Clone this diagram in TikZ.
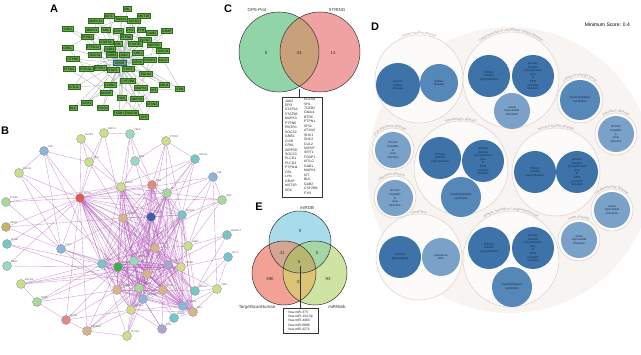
\documentclass[tikz,border=0pt]{standalone}
\usepackage{fontspec}
\setmainfont{Liberation Sans}
\usetikzlibrary{decorations.text}
\pgfdeclarelayer{bg}
\pgfsetlayers{bg,main}
\definecolor{agreen}{HTML}{66AC4A}
\definecolor{aborder}{HTML}{2E6A20}
\definecolor{agray}{HTML}{ADADB6}
\definecolor{eporblue}{HTML}{1F5A9A}
\definecolor{bYG}{HTML}{C9DF8A}
\definecolor{bLG}{HTML}{A6D99A}
\definecolor{bMint}{HTML}{9AD9BF}
\definecolor{bTeal}{HTML}{76C6C9}
\definecolor{bBlue}{HTML}{8DB4DC}
\definecolor{bDBlue}{HTML}{3F5FA8}
\definecolor{bRed}{HTML}{E05A5A}
\definecolor{bSalmon}{HTML}{E08A80}
\definecolor{bGreen}{HTML}{3CAE4A}
\definecolor{bTan}{HTML}{D9B48A}
\definecolor{bOlive}{HTML}{C7B36A}
\definecolor{bLav}{HTML}{A9A3D6}
\definecolor{bYel}{HTML}{D9D98A}
\definecolor{bpurple}{HTML}{B050B8}
\definecolor{dBg}{HTML}{F8F4F2}
\definecolor{catfill}{HTML}{FCFBFA}
\definecolor{catline}{HTML}{DCD0C8}
\definecolor{catgray}{HTML}{A39A93}
\definecolor{dDark}{HTML}{3D73A8}
\definecolor{dMed}{HTML}{5587B9}
\definecolor{dLight}{HTML}{7AA2C9}
\definecolor{dnavy}{HTML}{1B2A4E}
\definecolor{cGreen}{HTML}{90D4A8}
\definecolor{cPink}{HTML}{F0A2A2}
\definecolor{cTan}{HTML}{C8A07A}
\definecolor{eTop}{HTML}{A8DCEA}
\definecolor{eLeft}{HTML}{F2A194}
\definecolor{eRight}{HTML}{CFE4A2}
\definecolor{eTL}{HTML}{D3A592}
\definecolor{eTR}{HTML}{A6D5A6}
\definecolor{eLR}{HTML}{DCC474}
\definecolor{eC}{HTML}{B9B672}
\newcommand\fsA{\fontsize{3.2}{3.6}\selectfont}
\newcommand\fsB{\fontsize{2.5}{3}\selectfont}
\newcommand\fsD{\fontsize{3}{3.6}\selectfont}
\newcommand\fsCat{\fontsize{3.4}{4}\selectfont}
\newcommand\fsList{\fontsize{3.4}{4.45}\selectfont}
\newcommand\fsVenn{\fontsize{4.4}{5}\selectfont}
\newcommand\fsPanel{\fontsize{11}{12}\selectfont\bfseries}
\begin{document}
\begin{tikzpicture}[x=1pt,y=-1pt,
  anode/.style={draw=aborder, fill=agreen, line width=0.4pt, inner xsep=1.1pt, inner ysep=0.6pt, font=\fsA, text=black, minimum height=4.8pt},
  aedge/.style={draw=agray, line width=0.3pt},
  bnode/.style={circle, minimum size=9pt, inner sep=0, line width=0.3pt, draw=black!45},
  blab/.style={font=\fsB, text=black!65, inner sep=0.3pt},
  bedge/.style={draw=bpurple, line width=0.35pt, opacity=0.6},
  vline/.style={draw=black!80, line width=0.5pt},
  vtxt/.style={font=\fsVenn, text=black!80, inner sep=0},
  listtxt/.style={font=\fsList, align=left, inner sep=0, text=black!85},
  panel/.style={font=\fsPanel, inner sep=0},
  dcat/.style={circle, draw=catline, fill=catfill, line width=0.5pt, inner sep=0},
  dc/.style={circle, inner sep=0, align=center, font=\fsD, text=dnavy},
  catlab/.style={decorate, decoration={text along path, text={|\fsCat|#1}, text align=center, text color=catgray}}
]
\useasboundingbox (0,0) rectangle (641,355);

% ---------------- Panel labels
\node[panel] (labA) at (54,9) {A};
\node[panel] (labB) at (5,131) {B};
\node[panel] (labC) at (228,9) {C};
\node[panel] (labD) at (375,27) {D};
\node[panel] (labE) at (259,207) {E};

% ---------------- Panel A
\foreach \n/\x/\y/\t in {
1/127/9/CBL, 2/109/16/AKT1, 3/121/19/RASA1, 4/144/16/MST1R, 5/134/21/PLCG1, 6/96/21/MAPK14,
7/68/29/SHC2, 8/92/30/MAPK1, 9/106/30/SRC, 10/118/31/CISH, 11/130/30/LYN, 12/141/30/FYN,
13/152/33/GAB2, 14/167/31/GRAP, 15/87/37/PTPN1, 16/126/37/PTPN6, 17/145/40/PLCG2,
18/106/42/STAT5A, 19/118/44/VHL, 20/135/44/STAT5B, 21/154/45/INPP5D, 22/68/48/CRKL,
23/93/47/PTPN12, 24/110/49/GAB1, 25/163/51/SOCS3, 26/95/55/SOCS2, 27/112/55/GRB2,
28/124/55/JAK2, 29/138/53/SHC1, 30/73/59/PTPRE, 32/138/62/BTRC, 33/150/60/PIK3R1,
34/163/60/CUL2, 35/69/69/PTPN2, 36/86/69/PTPN11, 37/100/68/PTPRJ, 38/113/70/STAT1,
39/128/69/STAT3, 40/146/74/EGLN3, 41/128/81/CSF2RB, 42/74/87/KITLG, 43/110/85/TCEB2,
44/141/88/MAPK3, 45/154/90/KIT, 46/164/85/CBLB, 47/180/89/EPO, 48/106/93/NOSIP,
49/122/98/HCK, 50/137/99/MAPK8, 51/152/104/ATXN3, 52/87/103/SIRT1, 53/73/108/BLK,
54/103/108/PIAS3, 55/119/113/TCEB1, 56/132/113/SOCS6, 57/144/117/SYK}
  \node[anode] (a\n) at (\x,\y) {\t};
\node[anode, draw=eporblue, line width=1.1pt, inner xsep=2pt, inner ysep=1.2pt] (a31) at (120,63) {EPOR};

\begin{pgfonlayer}{bg}
\foreach \n in {1,...,30,32,33,...,57} \draw[aedge] (a31) -- (a\n);
\foreach \n in {3,5,9,11,16,18,20,24,27,33,36,39,41,43,44,47,49,55}
  \draw[aedge] (a28) -- (a\n);
\foreach \p/\q in {2/5,3/8,6/9,8/16,9/20,10/17,11/21,13/25,15/27,16/28,18/32,19/33,20/39,
  22/36,23/38,24/40,26/41,27/44,29/43,30/37,35/48,36/49,37/50,38/51,39/52,40/55,41/53,
  42/43,44/56,46/50,47/45,48/54,49/57,12/26,14/21,7/18,4/11,1/9,5/24,17/34,21/33,
  25/40,32/46,34/47,27/39,33/44,6/23,15/22,42/36,53/52,57/51,45/56}
  \draw[aedge] (a\p) -- (a\q);
\end{pgfonlayer}

% ---------------- Panel B
\foreach \n/\x/\y/\c/\l in {
1/81/139/bYG/SH2B3, 2/104/133/bYG/RNF41, 3/130/134/bMint/CBLB, 4/166/141/bYG/PTPRC,
5/44/151/bBlue/HCK, 6/89/162/bYG/VAV1, 7/135/161/bMint/IRS1, 8/195/159/bTeal/SOCS1,
9/213/177/bBlue/CBL, 10/19/173/bYG/EGLN1, 11/121/187/bYG/STAT3, 12/152/185/bSalmon/EPO,
13/167/193/bLG/KIT, 14/80/198/bRed/EPOR, 15/6/202/bLG/TCEB1, 16/123/218/bTan/GRB2,
17/151/217/bDBlue/JAK2, 18/182/215/bTeal/SOCS3, 19/6/227/bOlive/HIF1A, 20/7/244/bTeal/ELOB,
21/61/249/bBlue/CUL2, 22/155/248/bTan/SHC1, 23/188/246/bYG/GAB2, 24/7/266/bMint/RBX1,
25/102/264/bTeal/VHL, 26/118/267/bGreen/PIK3R1, 27/134/261/bMint/STAT5B, 28/168/265/bLav/LYN,
29/181/267/bYel/PTPN6, 30/147/274/bTan/MAPK3, 31/21/284/bYG/EGLN3, 32/117/290/bTan/STAT5A,
33/139/288/bLG/PLCG1, 34/163/290/bTan/CISH, 35/195/291/bTeal/SOCS2, 36/217/289/bYG/CRKL,
37/143/299/bBlue/INPP5D, 38/183/306/bBlue/PTPN11, 39/37/302/bLG/BTRC, 40/131/310/bYel/MAPK1,
41/193/312/bTan/SRC, 42/174/318/bTeal/GRAP, 43/66/320/bSalmon/KITLG, 44/87/331/bTan/CSF2RB,
45/162/329/bLav/FYN, 46/127/336/bYG/PLCG2, 47/222/200/bLG/IRS2, 48/227/235/bTeal/MAPK14,
49/228/257/bTeal/AKT1}
  \node[bnode, fill=\c, label={[blab]40:\l}] (b\n) at (\x,\y) {};

\begin{pgfonlayer}{bg}
\foreach \a [count=\i] in {11,12,13,16,17,18,22,25,26,27,28,29,30,32,33,34,37,38,40,41}
  \foreach \b [count=\j] in {11,12,13,16,17,18,22,25,26,27,28,29,30,32,33,34,37,38,40,41}
    {\ifnum\i<\j \draw[bedge] (b\a) -- (b\b);\fi}
\foreach \n in {1,2,5,6,10,11,12,13,15,16,17,18,19,20,21,22,23,24,25,26,27,28,29,30,32,33,34,35,37,38,40,41,42,43,44,45,46,8,9,47}
  \draw[bedge] (b14) -- (b\n);
\foreach \p/\q in {1/6,1/11,2/6,2/3,2/16,3/7,3/11,3/12,3/16,4/7,4/12,4/13,4/17,4/8,5/10,5/21,5/6,
  7/12,7/17,8/12,8/13,8/18,8/17,9/13,9/18,9/23,9/36,9/47,10/21,15/21,19/21,21/25,21/26,21/30,
  21/32,31/26,31/28,31/22,31/39,39/25,39/32,39/43,43/26,43/32,43/40,43/44,44/26,44/30,44/40,
  44/46,46/30,46/33,46/40,36/35,36/38,36/41,23/35,23/18,42/38,42/41,42/45,45/40,45/37,47/18,
  47/23,48/35,48/23,49/36,49/35,20/25,24/26,19/16,15/11,6/16,6/11,7/11,13/23,35/22,35/28,
  18/41,23/29,48/28,49/29,47/13,36/28,5/25,10/26,31/30,39/27,20/33,23/22,23/34,35/34,42/34,
  38/35,45/34,46/37,44/33,21/16,25/47,8/22,4/18}
  \draw[bedge] (b\p) -- (b\q);
\end{pgfonlayer}

% ---------------- Panel C (Venn)
\fill[cGreen] (279,52) circle[radius=40];
\fill[cPink] (320,52) circle[radius=40];
\begin{scope}
  \clip (279,52) circle[radius=40];
  \fill[cTan] (320,52) circle[radius=40];
\end{scope}
\draw[vline] (279,52) circle[radius=40];
\draw[vline] (320,52) circle[radius=40];
\node[vtxt] (cT1) at (257,10) {GPS-Prot};
\node[vtxt] (cT2) at (337,10) {STRING};
\node[vtxt] (cN1) at (266,53) {5};
\node[vtxt] (cN2) at (299,53) {43};
\node[vtxt] (cN3) at (333,53) {14};
\coordinate (cV) at (299.5,89);
\node[draw=black!80, line width=0.4pt, minimum width=40pt, minimum height=100pt, anchor=north west, inner sep=0] (boxC) at (282,97) {};
\draw[line width=0.4pt, black!80] (cV) -- (cV |- boxC.north);
\node[listtxt, anchor=north west] (colC1) at (285,99.5) {JAK2\\EPO\\STAT5A\\STAT5B\\MAPK3\\PTPN6\\PIK3R1\\SOCS2\\GRB2\\CISH\\CRKL\\INPP5D\\SOCS3\\PLCG1\\PLCG2\\PTPN11\\CBL\\LYN\\GRAP\\MST1R\\SRC};
\node[listtxt, anchor=north west] (colC2) at (304,98) {EGLN3\\VHL\\TCEB2\\GNAI1\\BTRC\\PTPN1\\IRS2\\ATXN3\\SHC1\\SHC2\\CUL2\\NOSIP\\SIRT1\\FOXP1\\KITLG\\GAB1\\MAPK1\\KIT\\BLK\\GAB2\\CSF2RB\\FYN};

% ---------------- Panel E (Venn)
\fill[eTop] (300,242) circle[radius=31];
\fill[eLeft] (284,273) circle[radius=32];
\fill[eRight] (315,273) circle[radius=32];
\begin{scope}\clip (300,242) circle[radius=31]; \fill[eTL] (284,273) circle[radius=32];\end{scope}
\begin{scope}\clip (300,242) circle[radius=31]; \fill[eTR] (315,273) circle[radius=32];\end{scope}
\begin{scope}\clip (284,273) circle[radius=32]; \fill[eLR] (315,273) circle[radius=32];\end{scope}
\begin{scope}\clip (300,242) circle[radius=31]; \clip (284,273) circle[radius=32]; \fill[eC] (315,273) circle[radius=32];\end{scope}
\draw[vline] (300,242) circle[radius=31];
\draw[vline] (284,273) circle[radius=32];
\draw[vline] (315,273) circle[radius=32];
\node[vtxt] (eT1) at (307,208) {miRDB};
\node[vtxt] (eT2) at (257,307) {TargetScanHuman};
\node[vtxt] (eT3) at (337,307) {miRWalk};
\node[vtxt] (eN1) at (300,231) {0};
\node[vtxt] (eN2) at (282,253) {41};
\node[vtxt] (eN3) at (317,253) {0};
\node[vtxt] (eN4) at (299,262) {5};
\node[vtxt] (eN5) at (270,279) {490};
\node[vtxt] (eN6) at (299,282) {31};
\node[vtxt] (eN7) at (328,279) {93};
\coordinate (eV) at (300,266);
\node[draw=black!80, line width=0.4pt, minimum width=35pt, minimum height=25pt, anchor=north west, inner sep=0] (boxE) at (283,308) {};
\draw[line width=0.4pt, black!80] (eV) -- (eV |- boxE.north);
\node[listtxt, align=left] (colE) at (boxE.center) {hsa-miR-375\\hsa-miR-134-5p\\hsa-miR-4463\\hsa-miR-6886\\hsa-miR-4271};

% ---------------- Panel D
\begin{scope}
  \clip (368,20) rectangle (641,320);
  \fill[dBg] (510,170) circle[radius=143];
\end{scope}
\node[anchor=east, font=\fontsize{5}{6}\selectfont, inner sep=0] (minsc) at (630,25) {Minimum Score: 0.4};

% category circles
\node[dcat, minimum size=88pt] (cat1) at (419,79) {};
\node[dcat, minimum size=96pt] (cat2) at (511,80) {};
\node[dcat, minimum size=46pt] (cat3) at (580,100) {};
\node[dcat, minimum size=42pt] (cat4) at (616,134) {};
\node[dcat, minimum size=42pt] (cat5) at (393,149) {};
\node[dcat, minimum size=42pt] (cat6) at (395,197) {};
\node[dcat, minimum size=94pt] (cat7) at (461,168) {};
\node[dcat, minimum size=88pt] (cat8) at (556,172) {};
\node[dcat, minimum size=42pt] (cat9) at (612,210) {};
\node[dcat, minimum size=86pt] (cat10) at (419,257) {};
\node[dcat, minimum size=96pt] (cat11) at (511,259) {};
\node[dcat, minimum size=42pt] (cat12) at (579,240) {};

\path[catlab={urinary system disease}] (cat1.center) ++(210:45) arc[start angle=210, end angle=330, radius=45];
\path[catlab={cardiovascular or circulatory system disease}] (cat2.center) ++(195:49) arc[start angle=195, end angle=345, radius=49];
\path[catlab={cancer or benign tumor}] (cat3.center) ++(185:24) arc[start angle=185, end angle=355, radius=24];
\path[catlab={infectious disease}] (cat4.center) ++(190:22) arc[start angle=190, end angle=350, radius=22];
\path[catlab={viral infectious disease}] (cat5.center) ++(185:22) arc[start angle=185, end angle=335, radius=22];
\path[catlab={infectious disease}] (cat6.center) ++(185:22) arc[start angle=185, end angle=335, radius=22];
\path[catlab={hematologic disease}] (cat7.center) ++(215:48) arc[start angle=215, end angle=325, radius=48];
\path[catlab={immune system disease}] (cat8.center) ++(215:45) arc[start angle=215, end angle=325, radius=45];
\path[catlab={cardiovascular disease}] (cat9.center) ++(185:22) arc[start angle=185, end angle=355, radius=22];
\path[catlab={syndrome}] (cat10.center) ++(230:44) arc[start angle=230, end angle=310, radius=44];
\path[catlab={genetic, familial or congenital disease}] (cat11.center) ++(205:49) arc[start angle=205, end angle=335, radius=49];
\path[catlab={heart disease}] (cat12.center) ++(190:22) arc[start angle=190, end angle=350, radius=22];

% disease circles
\node[dc, fill=dDark, minimum size=44pt] (d1) at (398,85) {chronic\\kidney\\disease};
\node[dc, fill=dMed, minimum size=38pt] (d2) at (439,83) {kidney\\disease};
\node[dc, fill=dDark, minimum size=42pt] (d3) at (489,76) {Primary\\familial\\polycythemia};
\node[dc, fill=dDark, minimum size=42pt] (d4) at (533,76) {primary\\familial\\polycythemia\\due\\to\\EPO\\receptor\\mutation};
\node[dc, fill=dLight, minimum size=36pt] (d5) at (512,111) {acute\\myocardial\\infarction};
\node[dc, fill=dMed, minimum size=40pt] (d6) at (580,100) {myelodysplastic\\syndrome};
\node[dc, fill=dLight, minimum size=36pt] (d7) at (616,134) {chronic\\hepatitis\\C\\virus\\infection};
\node[dc, fill=dLight, minimum size=36pt] (d8) at (393,150) {chronic\\hepatitis\\C\\virus\\infection};
\node[dc, fill=dLight, minimum size=36pt] (d9) at (395,198) {chronic\\hepatitis\\C\\virus\\infection};
\node[dc, fill=dDark, minimum size=42pt] (d10) at (440,158) {Primary\\familial\\polycythemia};
\node[dc, fill=dDark, minimum size=42pt] (d11) at (483,161) {primary\\familial\\polycythemia\\due\\to\\EPO\\receptor\\mutation};
\node[dc, fill=dMed, minimum size=40pt] (d12) at (461,197) {myelodysplastic\\syndrome};
\node[dc, fill=dDark, minimum size=42pt] (d13) at (535,172) {Primary\\familial\\polycythemia};
\node[dc, fill=dDark, minimum size=42pt] (d14) at (577,172) {primary\\familial\\polycythemia\\due\\to\\EPO\\receptor\\mutation};
\node[dc, fill=dLight, minimum size=36pt] (d15) at (612,210) {acute\\myocardial\\infarction};
\node[dc, fill=dDark, minimum size=42pt] (d16) at (400,257) {anemia\\(phenotype)};
\node[dc, fill=dLight, minimum size=38pt] (d17) at (441,257) {premature\\birth};
\node[dc, fill=dDark, minimum size=42pt] (d18) at (489,248) {Primary\\familial\\polycythemia};
\node[dc, fill=dDark, minimum size=42pt] (d19) at (533,248) {primary\\familial\\polycythemia\\due\\to\\EPO\\receptor\\mutation};
\node[dc, fill=dMed, minimum size=40pt] (d20) at (512,287) {myelodysplastic\\syndrome};
\node[dc, fill=dLight, minimum size=36pt] (d21) at (579,240) {acute\\myocardial\\infarction};
\end{tikzpicture}
\end{document}
